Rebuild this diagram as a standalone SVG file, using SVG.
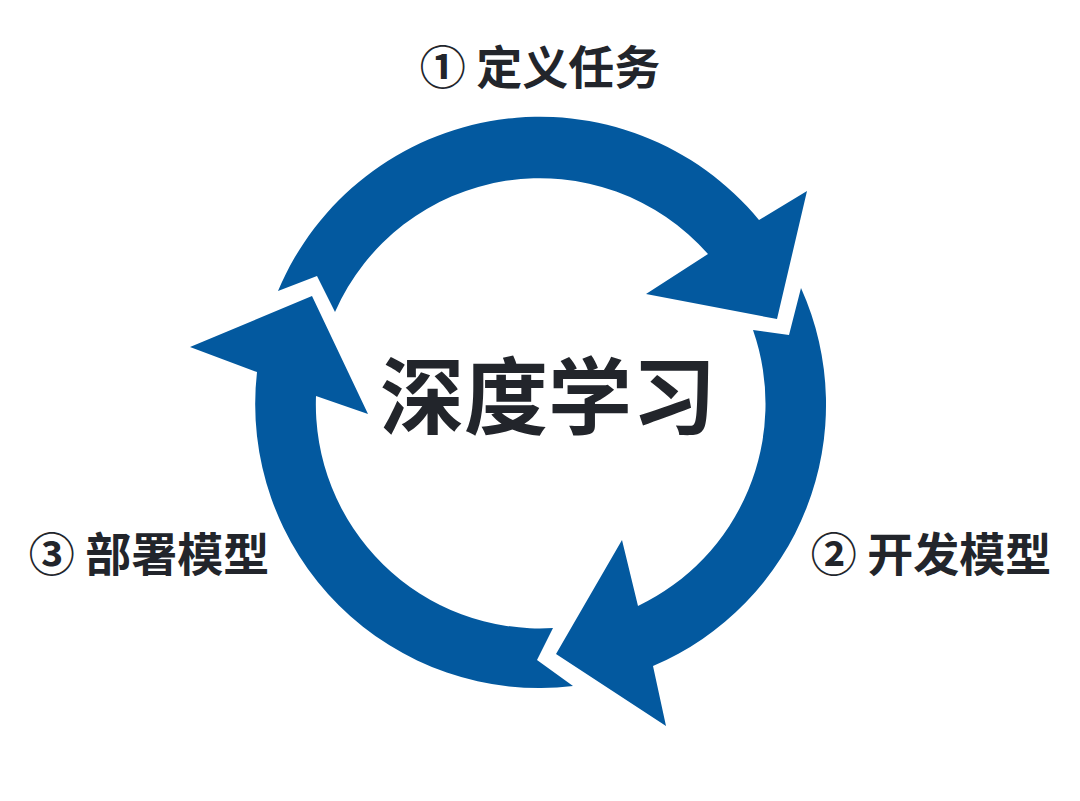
<svg xmlns="http://www.w3.org/2000/svg" width="1080" height="801" viewBox="0 0 1080 801">
<style>
.arr{fill:#03599F;stroke:none}
.lbl{font-family:"Noto Sans CJK SC","Noto Sans",sans-serif;font-weight:700;fill:#22252B;font-size:46px}
.ctr{font-family:"Noto Sans CJK SC","Noto Sans",sans-serif;font-weight:700;fill:#22252B;font-size:84px}
</style>
<rect width="1080" height="801" fill="#ffffff"/>
<g id="connectors">
<path id="arrow1" class="arr" d="M278,291 A284,284 0 0 1 759,220 L807,191 L777,319 L646,294 L708,254 A224,224 0 0 0 335,312 L317,276 Z"/>
<path id="arrow2" class="arr" d="M801,288 A284,284 0 0 1 653,666 L666,726 L556,654 L622,540 L638,606 A224,224 0 0 0 753,330 L789,335 Z"/>
<path id="arrow3" class="arr" d="M573,686 A284,284 0 0 1 257,372 L190,347 L312,296 L368,414 L316,396 A224,224 0 0 0 553,628 L537,660 Z"/>
</g>
<g id="center"><text class="ctr" x="548" y="428" text-anchor="middle">深度学习</text></g>
<g id="step1"><text class="lbl" x="540" y="84" text-anchor="middle">① 定义任务</text></g>
<g id="step2"><text class="lbl" x="931" y="571" text-anchor="middle">② 开发模型</text></g>
<g id="step3"><text class="lbl" x="149" y="571" text-anchor="middle">③ 部署模型</text></g>
</svg>
